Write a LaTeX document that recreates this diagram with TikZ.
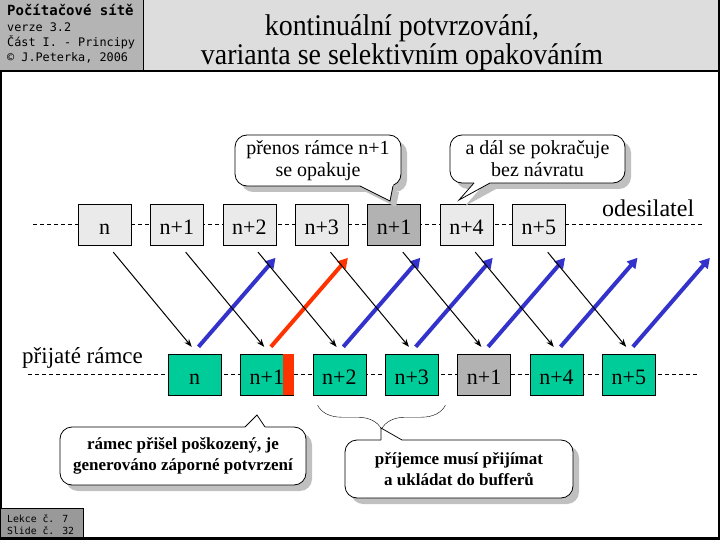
\documentclass[tikz,border=0pt]{standalone}
\usepackage{fontspec}
\setmainfont{Liberation Serif}
\newfontfamily\hdrfont{DejaVu Sans Mono}
\newfontfamily\titlefont[FakeStretch=0.93]{Liberation Serif}
\usetikzlibrary{arrows.meta,positioning,shadows,decorations.pathreplacing}

\definecolor{hdrdark}{HTML}{B4B4B4}
\definecolor{hdrlight}{HTML}{DDDDDD}
\definecolor{footgray}{HTML}{999999}
\definecolor{framelight}{HTML}{EAEAEA}
\definecolor{framegray}{HTML}{B2B2B2}
\definecolor{framegreen}{HTML}{00CC99}
\definecolor{ackblue}{HTML}{3333CC}
\definecolor{nakred}{HTML}{FF3300}
\definecolor{shadowgray}{HTML}{C0C0C0}

\begin{document}
\begin{tikzpicture}[x=1pt, y=-1pt, >={Stealth[length=8pt,width=6pt]},
  frame/.style={draw, fill=framelight, minimum width=53pt, minimum height=41pt,
    inner sep=0pt, text height=19pt, text depth=0pt, font=\fontsize{22}{24}\selectfont},
  rcvd/.style={frame, fill=framegreen},
  again/.style={frame, fill=framegray},
  data/.style={->, line width=1pt, shorten <=9pt, shorten >=9pt},
  ack/.style={-{Triangle[length=10pt,width=11pt]}, line width=4pt, ackblue},
  timeline/.style={dash pattern=on 4pt off 3pt},
  bubble/.style={draw, line width=0.8pt, fill=white, rounded corners=12pt,
    align=center, inner sep=0pt,
    drop shadow={shadow xshift=6pt, shadow yshift=-6pt, fill=shadowgray, opacity=1}},
  note/.style={bubble, font=\fontsize{20}{22}\selectfont},
  bnote/.style={bubble, font=\bfseries\fontsize{17}{21}\selectfont},
  tail/.style={line width=0.8pt}]
  \useasboundingbox (0,0) rectangle (720,540);

  % slide header and frame
  \fill[white] (0,0) rectangle (720,540);
  \fill[hdrlight] (143,0) rectangle (718,71);
  \fill[hdrdark] (0,0) rectangle (143,71);
  \draw[line width=1pt] (143,0) -- (143,71);
  \fill (717.5,0) rectangle (720,540);
  \fill (0,536.5) rectangle (720,540);
  \draw[line width=1.5pt] (0,71) -- (718,71);
  \draw[line width=1.5pt] (0.75,71) -- (0.75,537);
  \node[anchor=base west, inner sep=0pt, font=\hdrfont\bfseries\fontsize{14}{15}\selectfont] (course) at (7,16) {Počítačové sítě};
  \node[anchor=base west, inner sep=0pt, font=\hdrfont\fontsize{11.8}{12}\selectfont] (version) at (7,32) {verze 3.2};
  \node[anchor=base west, inner sep=0pt, font=\hdrfont\fontsize{11.8}{12}\selectfont] (part) at (7,47) {Část I. - Principy};
  \node[anchor=base west, inner sep=0pt, font=\hdrfont\fontsize{11.8}{12}\selectfont] (author) at (7,62) {© J.Peterka, 2006};
  \node[anchor=base, inner sep=0pt, font=\titlefont\fontsize{30}{32}\selectfont] (title1) at (402,36) {kontinuální potvrzování,};
  \node[anchor=base, inner sep=0pt, font=\titlefont\fontsize{30}{32}\selectfont] (title2) at (402,65) {varianta se selektivním opakováním};
  \draw[fill=footgray] (0.5,508) rectangle (83,537);
  \node[anchor=base west, inner sep=0pt, font=\hdrfont\fontsize{9.8}{10}\selectfont] (lesson) at (7,522) {Lekce č. 7};
  \node[anchor=base west, inner sep=0pt, font=\hdrfont\fontsize{9.8}{10}\selectfont] (slide) at (7,534) {Slide č. 32};

  % time lines
  \coordinate (sndA) at (33,224.5);
  \coordinate (sndB) at (703,224.5);
  \coordinate (rcvA) at (28,374.5);
  \coordinate (rcvB) at (697,374.5);
  \draw[timeline] (sndA) -- (sndB);
  \draw[timeline] (rcvA) -- (rcvB);

  % sent frames
  \node[frame] (s0) at (104.5,224.5) {n};
  \node[frame, right=19pt of s0] (s1) {n+1};
  \node[frame, right=19pt of s1] (s2) {n+2};
  \node[frame, right=19pt of s2] (s3) {n+3};
  \node[again, right=19pt of s3] (s4) {n+1};
  \node[frame, right=19pt of s4] (s5) {n+4};
  \node[frame, right=19pt of s5] (s6) {n+5};
  \node[anchor=base west, inner sep=0pt, font=\fontsize{24}{26}\selectfont] (sender) at (602,217) {odesilatel};

  % received frames
  \node[rcvd] (r0) at (194.5,374.5) {n};
  \node[rcvd, right=19pt of r0] (r1) {n+1};
  \node[rcvd, right=19pt of r1] (r2) {n+2};
  \node[rcvd, right=19pt of r2] (r3) {n+3};
  \node[again, right=19pt of r3] (r4) {n+1};
  \node[rcvd, right=19pt of r4] (r5) {n+4};
  \node[rcvd, right=19pt of r5] (r6) {n+5};
  \fill[nakred] ([xshift=-11pt]r1.north east) rectangle ([xshift=0.5pt]r1.south east);
  \node[anchor=base west, inner sep=0pt, font=\fontsize{23}{25}\selectfont] (receiver) at (22,363) {přijaté rámce};

  % acknowledgements
  \draw[ack] ([xshift=4pt,yshift=7pt]r0.north) -- ++(77pt,89pt);
  \draw[ack, nakred] ([xshift=4pt,yshift=7pt]r1.north) -- ++(77pt,89pt);
  \draw[ack] ([xshift=4pt,yshift=7pt]r2.north) -- ++(77pt,89pt);
  \draw[ack] ([xshift=4pt,yshift=7pt]r3.north) -- ++(77pt,89pt);
  \draw[ack] ([xshift=4pt,yshift=7pt]r4.north) -- ++(77pt,89pt);
  \draw[ack] ([xshift=4pt,yshift=7pt]r5.north) -- ++(77pt,89pt);
  \draw[ack] ([xshift=4pt,yshift=7pt]r6.north) -- ++(77pt,89pt);

  % data frames
  \draw[data] ([xshift=3pt]s0.south) -- ([xshift=3pt]r0.north);
  \draw[data] ([xshift=3pt]s1.south) -- ([xshift=3pt]r1.north);
  \draw[data] ([xshift=3pt]s2.south) -- ([xshift=3pt]r2.north);
  \draw[data] ([xshift=3pt]s3.south) -- ([xshift=3pt]r3.north);
  \draw[data] ([xshift=3pt]s4.south) -- ([xshift=3pt]r4.north);
  \draw[data] ([xshift=3pt]s5.south) -- ([xshift=3pt]r5.north);
  \draw[data] ([xshift=3pt]s6.south) -- ([xshift=3pt]r6.north);

  % callouts
  \node[note, minimum width=166pt, minimum height=51pt] (resend) at (318,160.5) {přenos rámce n+1\\se opakuje};
  \fill[shadowgray] (366,192) -- (396,207) -- (399,192) -- cycle;
  \fill[white] (360,186) -- (390,201) -- (393,186) -- (393,184) -- (360,184) -- cycle;
  \draw[tail] (360,186) -- (390,201) -- (393,186);

  \node[note, minimum width=175pt, minimum height=48pt] (goon) at (537.5,159) {a dál se pokračuje\\bez návratu};
  \fill[shadowgray] (480,189) -- (465,206) -- (496,189) -- cycle;
  \fill[white] (474,183) -- (459,200) -- (490,183) -- (490,181) -- (474,181) -- cycle;
  \draw[tail] (474,183) -- (459,200) -- (490,183);

  \node[bnote, minimum width=246pt, minimum height=58pt] (damaged) at (183,456) {rámec přišel poškozený, je\\generováno záporné potvrzení};
  \fill[white] (245,427) -- (257,415) -- (265,427) -- (265,429) -- (245,429) -- cycle;
  \draw[tail] (245,427) -- (257,415) -- (265,427);

  \draw[decorate, decoration={brace, mirror, amplitude=24pt}]
    ([xshift=5pt,yshift=-10pt]r2.south west) -- ([xshift=7pt,yshift=-10pt]r3.south east);
  \node[bnote, minimum width=228pt, minimum height=58pt] (buffer) at (459,469) {příjemce musí přijímat\\a ukládat do bufferů};
  \fill[white] (381,440) -- (381,428) -- (402,440) -- (402,442) -- (381,442) -- cycle;
  \draw[tail] (381,440) -- (381,428) -- (402,440);
\end{tikzpicture}
\end{document}
